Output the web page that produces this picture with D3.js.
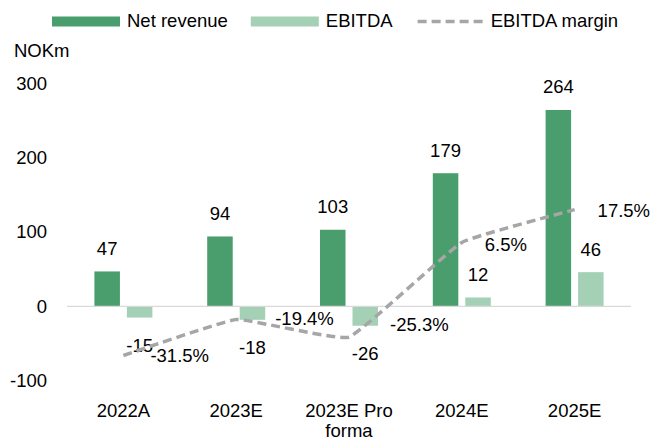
<!DOCTYPE html>
<html>
<head>
<meta charset="utf-8">
<script src="https://cdn.jsdelivr.net/npm/d3@7/dist/d3.min.js"></script>
<style>
  html, body { margin: 0; padding: 0; background: #fff; }
  svg { display: block; font-family: "Liberation Sans", Arial, sans-serif; }
</style>
</head>
<body>
<svg id="chart" width="651" height="442"></svg>
<script>
// ---- data ----
const categories = ["2022A", "2023E", "2023E Pro forma", "2024E", "2025E"];
const categoryLines = [["2022A"], ["2023E"], ["2023E Pro", "forma"], ["2024E"], ["2025E"]];
const netRevenue = [47, 94, 103, 179, 264];
const ebitda = [-15, -18, -26, 12, 46];
const ebitdaMargin = [-31.5, -19.4, -25.3, 6.5, 17.5];
const marginLabels = ["-31.5%", "-19.4%", "-25.3%", "6.5%", "17.5%"];
const yTicks = [-100, 0, 100, 200, 300];
const seriesNames = ["Net revenue", "EBITDA", "EBITDA margin"];

// ---- layout / style ----
const W = 651, H = 442;
const plotLeft = 67, plotRight = 631;
const C_REV = "#4a9d6c", C_EB = "#a4d0b6", C_LINE = "#a6a6a6";
const FS = 18.5;
const marginLabelNudge = [[27, 0], [39, -1], [41, -13], [23, 2], [23, 1]];
const fmt = v => String(v);

const svg = d3.select("#chart");

const x = d3.scaleBand().domain(categories).range([plotLeft, plotRight])
  .paddingInner(0.486).paddingOuter(0.243);
const xs = d3.scaleBand().domain(["rev", "eb"]).range([0, x.bandwidth()])
  .paddingInner(0.215).paddingOuter(0);
const y = d3.scaleLinear().domain([-100, 300]).range([380.8, 83.2]);
const y2 = d3.scaleLinear().domain([-40, 60]).range([380.8, 83.2]);

// y axis labels
const yAxis = d3.axisLeft(y).tickValues(yTicks).tickSize(0).tickPadding(0).tickFormat(fmt);
const gy = svg.append("g").attr("transform", "translate(47,0)").call(yAxis);
gy.select(".domain").remove();
gy.selectAll("text").attr("font-size", FS).attr("fill", "#000")
  .attr("font-family", "Liberation Sans, Arial, sans-serif");

// unit label
svg.append("text").attr("x", 14).attr("y", 57.3).attr("font-size", FS).attr("fill", "#000").text("NOKm");

// bars
const cats = svg.append("g");
categories.forEach((c, i) => {
  const x0 = x(c);
  cats.append("rect")
    .attr("x", x0 + xs("rev")).attr("width", xs.bandwidth())
    .attr("y", y(Math.max(0, netRevenue[i]))).attr("height", Math.abs(y(netRevenue[i]) - y(0)))
    .attr("fill", C_REV);
  cats.append("rect")
    .attr("x", x0 + xs("eb")).attr("width", xs.bandwidth())
    .attr("y", y(Math.max(0, ebitda[i]))).attr("height", Math.abs(y(ebitda[i]) - y(0)))
    .attr("fill", C_EB);
});

// zero line
svg.append("line").attr("x1", plotLeft).attr("x2", plotRight)
  .attr("y1", y(0)).attr("y2", y(0)).attr("stroke", "#d9d9d9").attr("stroke-width", 1.2);

// bar labels
function barLabel(v, cx) {
  const yy = v >= 0 ? y(v) - 16.5 : y(v) + 34;
  svg.append("text").attr("x", cx).attr("y", yy).attr("text-anchor", "middle")
    .attr("font-size", FS).attr("fill", "#000").text(fmt(v));
}
categories.forEach((c, i) => {
  barLabel(netRevenue[i], x(c) + xs("rev") + xs.bandwidth() / 2);
  barLabel(ebitda[i], x(c) + xs("eb") + xs.bandwidth() / 2);
});

// margin line
const pts = categories.map((c, i) => [x(c) + x.bandwidth() / 2, y2(ebitdaMargin[i])]);
const line = d3.line().curve(d3.curveCardinal.tension(0.7));
svg.append("path").attr("d", line(pts)).attr("fill", "none")
  .attr("stroke", C_LINE).attr("stroke-width", 3.5).attr("stroke-dasharray", "9,5");

// margin labels
pts.forEach((p, i) => {
  svg.append("text").attr("x", p[0] + marginLabelNudge[i][0]).attr("y", p[1] + marginLabelNudge[i][1])
    .attr("dy", "0.35em").attr("font-size", FS).attr("fill", "#000").text(marginLabels[i]);
});

// category labels
categories.forEach((c, i) => {
  const t = svg.append("text").attr("x", x(c) + x.bandwidth() / 2).attr("y", 416.7)
    .attr("text-anchor", "middle").attr("font-size", FS).attr("fill", "#000");
  categoryLines[i].forEach((ln, j) => {
    t.append("tspan").attr("x", x(c) + x.bandwidth() / 2).attr("dy", j === 0 ? 0 : 20.5).text(ln);
  });
});

// legend
const legend = svg.append("g");
let lx = 52;
const legendY = 21.5;
seriesNames.forEach((name, i) => {
  if (i < 2) {
    legend.append("rect").attr("x", lx).attr("y", legendY - 5).attr("width", 68).attr("height", 10)
      .attr("fill", i === 0 ? C_REV : C_EB);
  } else {
    legend.append("line").attr("x1", lx + 2).attr("x2", lx + 68).attr("y1", legendY).attr("y2", legendY)
      .attr("stroke", C_LINE).attr("stroke-width", 3.5).attr("stroke-dasharray", "9,5");
  }
  const t = legend.append("text").attr("x", lx + 75).attr("y", 27.3)
    .attr("font-size", FS).attr("fill", "#000").text(name);
  lx += 75 + t.node().getComputedTextLength() + 23;
});
</script>
</body>
</html>
